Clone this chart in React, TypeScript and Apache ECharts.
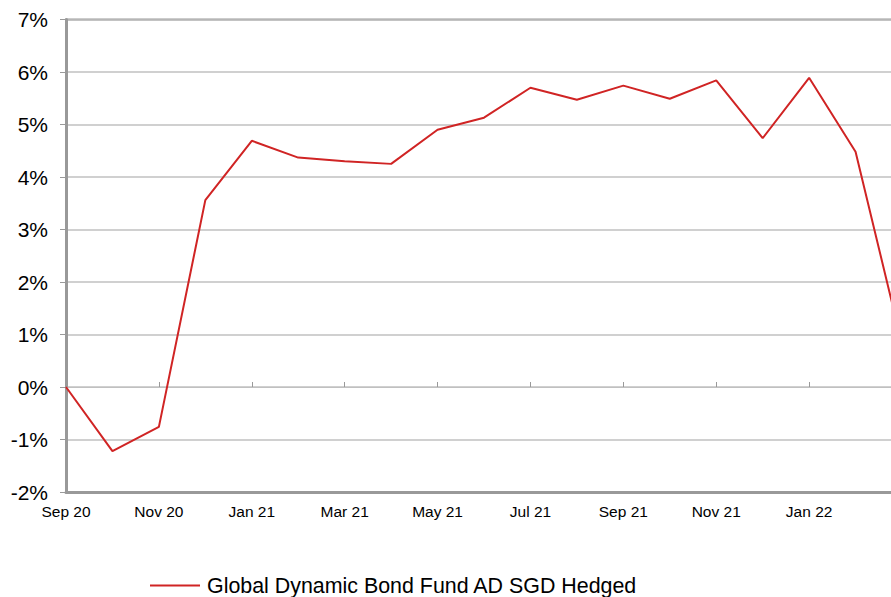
import React, { useEffect, useRef } from "react";
import * as echarts from "echarts";

const months = [
  "Sep 20", "Oct 20", "Nov 20", "Dec 20", "Jan 21", "Feb 21", "Mar 21", "Apr 21",
  "May 21", "Jun 21", "Jul 21", "Aug 21", "Sep 21", "Oct 21", "Nov 21", "Dec 21",
  "Jan 22", "Feb 22", "Mar 22",
];
const fundReturns = [
  0, -1.22, -0.76, 3.56, 4.69, 4.37, 4.3, 4.25, 4.9, 5.13, 5.7, 5.47, 5.74, 5.49,
  5.84, 4.74, 5.89, 4.48, 0.82,
];
const seriesName = "Global Dynamic Bond Fund AD SGD Hedged";
const yMin = -2;
const yMax = 7;
const yStep = 1;

const FONT = "'Liberation Sans', Arial, Helvetica, sans-serif";

export default function App() {
  const ref = useRef<HTMLDivElement>(null);
  useEffect(() => {
    if (!ref.current) return;
    const chart = echarts.init(ref.current, null, { renderer: "svg" });
    const lastIdx = months.length - 1;
    chart.setOption({
      animation: false,
      textStyle: { fontFamily: FONT },
      grid: {
        left: 66,
        right: 48,
        top: 19.5,
        bottom: 105,
        show: true,
        borderColor: "#999",
        borderWidth: 2,
        containLabel: false,
      },
      legend: {
        left: 145,
        top: 570,
        icon: "rect",
        itemWidth: 50,
        itemHeight: 2,
        textStyle: {
          fontFamily: FONT,
          fontSize: 21.4,
          color: "#000",
          padding: [0, 0, 0, 2],
        },
        data: [seriesName],
      },
      xAxis: [
        {
          type: "category",
          data: months,
          boundaryGap: false,
          position: "bottom",
          axisLine: { onZero: false, lineStyle: { color: "#999", width: 3 } },
          axisTick: { show: false },
          axisLabel: {
            interval: (i: number) => i % 2 === 0 && i < lastIdx,
            fontSize: 15.5,
            color: "#000",
            margin: 11,
            fontFamily: FONT,
          },
          splitLine: { show: false },
        },
        {
          type: "category",
          data: months,
          boundaryGap: false,
          position: "bottom",
          axisLine: { show: true, onZero: true, lineStyle: { color: "#c0c0c0", width: 1 } },
          axisTick: {
            show: true,
            inside: true,
            interval: 1,
            length: 5,
            lineStyle: { color: "#999", width: 1 },
          },
          axisLabel: { show: false },
          splitLine: { show: false },
        },
      ],
      yAxis: {
        type: "value",
        min: yMin,
        max: yMax,
        interval: yStep,
        axisLine: { show: true, lineStyle: { color: "#999", width: 3 } },
        axisTick: { show: true, length: 6, lineStyle: { color: "#999", width: 1 } },
        axisLabel: {
          formatter: "{value}%",
          fontSize: 21,
          color: "#000",
          margin: 18,
          fontFamily: FONT,
        },
        splitLine: { show: true, lineStyle: { color: "#c0c0c0", width: 1.5 } },
      },
      series: [
        {
          name: seriesName,
          type: "line",
          data: fundReturns,
          xAxisIndex: 0,
          symbol: "none",
          lineStyle: { color: "#d02424", width: 2 },
          itemStyle: { color: "#d02424" },
        },
      ],
    });
    return () => chart.dispose();
  }, []);
  return (
    <div
      style={{
        position: "fixed",
        left: 0,
        top: 0,
        width: 891,
        height: 597,
        overflow: "hidden",
        background: "#fff",
      }}
    >
      <div ref={ref} style={{ width: 950, height: 597 }} />
    </div>
  );
}
